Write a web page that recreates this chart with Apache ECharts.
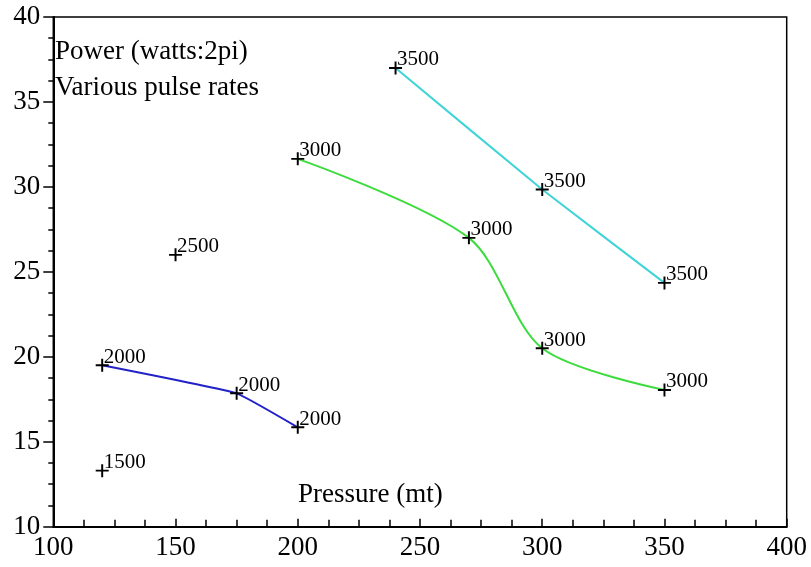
<!DOCTYPE html>
<html>
<head>
<meta charset="utf-8">
<script src="https://cdn.jsdelivr.net/npm/echarts@6/dist/echarts.min.js"></script>
<style>
html,body{margin:0;padding:0;background:#fff;}
#chart{width:811px;height:567px;}
</style>
</head>
<body>
<div id="chart"></div>
<script>
// Data
const rate1500X = [120];
const rate1500Y = [13.3];
const rate2000X = [120, 175, 200];
const rate2000Y = [19.5, 17.85, 15.85];
const rate2500X = [150];
const rate2500Y = [26.0];
const rate3000X = [200, 270, 300, 350];
const rate3000Y = [31.65, 27.0, 20.5, 18.05];
const rate3500X = [240, 300, 350];
const rate3500Y = [37.0, 29.85, 24.35];
const rateLabels = ['1500', '2000', '2500', '3000', '3500'];
const xTicks = [100, 150, 200, 250, 300, 350, 400];
const yTicks = [10, 15, 20, 25, 30, 35, 40];

const FONT = '"Liberation Serif", "DejaVu Serif", serif';
const crossPath = 'path://M0,4.25H10V5.75H0Z M4.25,0H5.75V10H4.25Z';

function pts(xs, ys) { return xs.map((x, i) => [x, ys[i]]); }

function makeSeries(xs, ys, label, color, smooth) {
  return {
    type: 'line',
    data: pts(xs, ys),
    symbol: crossPath,
    symbolSize: 13,
    showSymbol: true,
    smooth: smooth,
    itemStyle: { color: '#000' },
    lineStyle: { color: color || 'transparent', width: color ? 2 : 0 },
    label: {
      show: true,
      formatter: () => label,
      position: [8, 9],
      align: 'left',
      verticalAlign: 'bottom',
      color: '#000',
      fontFamily: FONT,
      fontSize: 21
    },
    silent: true,
    animation: false,
    z: 3
  };
}

const chart = echarts.init(document.getElementById('chart'));
chart.setOption({
  animation: false,
  backgroundColor: '#fff',
  grid: {
    left: 53.3, right: 24.3, top: 17, bottom: 40.3,
    show: true, borderColor: '#000', borderWidth: 1.5, backgroundColor: 'transparent'
  },
  xAxis: {
    type: 'value', min: xTicks[0], max: xTicks[xTicks.length - 1], interval: 50,
    axisLine: { show: true, lineStyle: { color: '#000', width: 2 } },
    axisTick: { show: true, inside: true, length: 8, lineStyle: { color: '#000', width: 1.5 } },
    minorTick: { show: true, splitNumber: 4, length: 7, lineStyle: { color: '#000', width: 1.5 } },
    splitLine: { show: false },
    axisLabel: { color: '#000', fontFamily: FONT, fontSize: 27, margin: 8 }
  },
  yAxis: {
    type: 'value', min: yTicks[0], max: yTicks[yTicks.length - 1], interval: 5,
    axisLine: { show: true, lineStyle: { color: '#000', width: 2 } },
    axisTick: { show: true, inside: false, length: 10, lineStyle: { color: '#000', width: 1.5 } },
    minorTick: { show: true, splitNumber: 4, length: 5, lineStyle: { color: '#000', width: 1.5 } },
    splitLine: { show: false },
    axisLabel: { color: '#000', fontFamily: FONT, fontSize: 27, margin: 13 }
  },
  graphic: [
    { type: 'text', left: 55, top: 38, style: { text: 'Power (watts:2pi)', font: '27px ' + FONT, fill: '#000' } },
    { type: 'text', left: 55, top: 74, style: { text: 'Various pulse rates', font: '27px ' + FONT, fill: '#000' } },
    { type: 'text', left: 298, top: 481, style: { text: 'Pressure (mt)', font: '27px ' + FONT, fill: '#000' } }
  ],
  series: [
    makeSeries(rate1500X, rate1500Y, rateLabels[0], null, false),
    makeSeries(rate2000X, rate2000Y, rateLabels[1], '#2222c8', 0.1),
    makeSeries(rate2500X, rate2500Y, rateLabels[2], null, false),
    makeSeries(rate3000X, rate3000Y, rateLabels[3], '#3ddc3d', 0.3),
    makeSeries(rate3500X, rate3500Y, rateLabels[4], '#3fd4d8', 0.1)
  ]
});
</script>
</body>
</html>
